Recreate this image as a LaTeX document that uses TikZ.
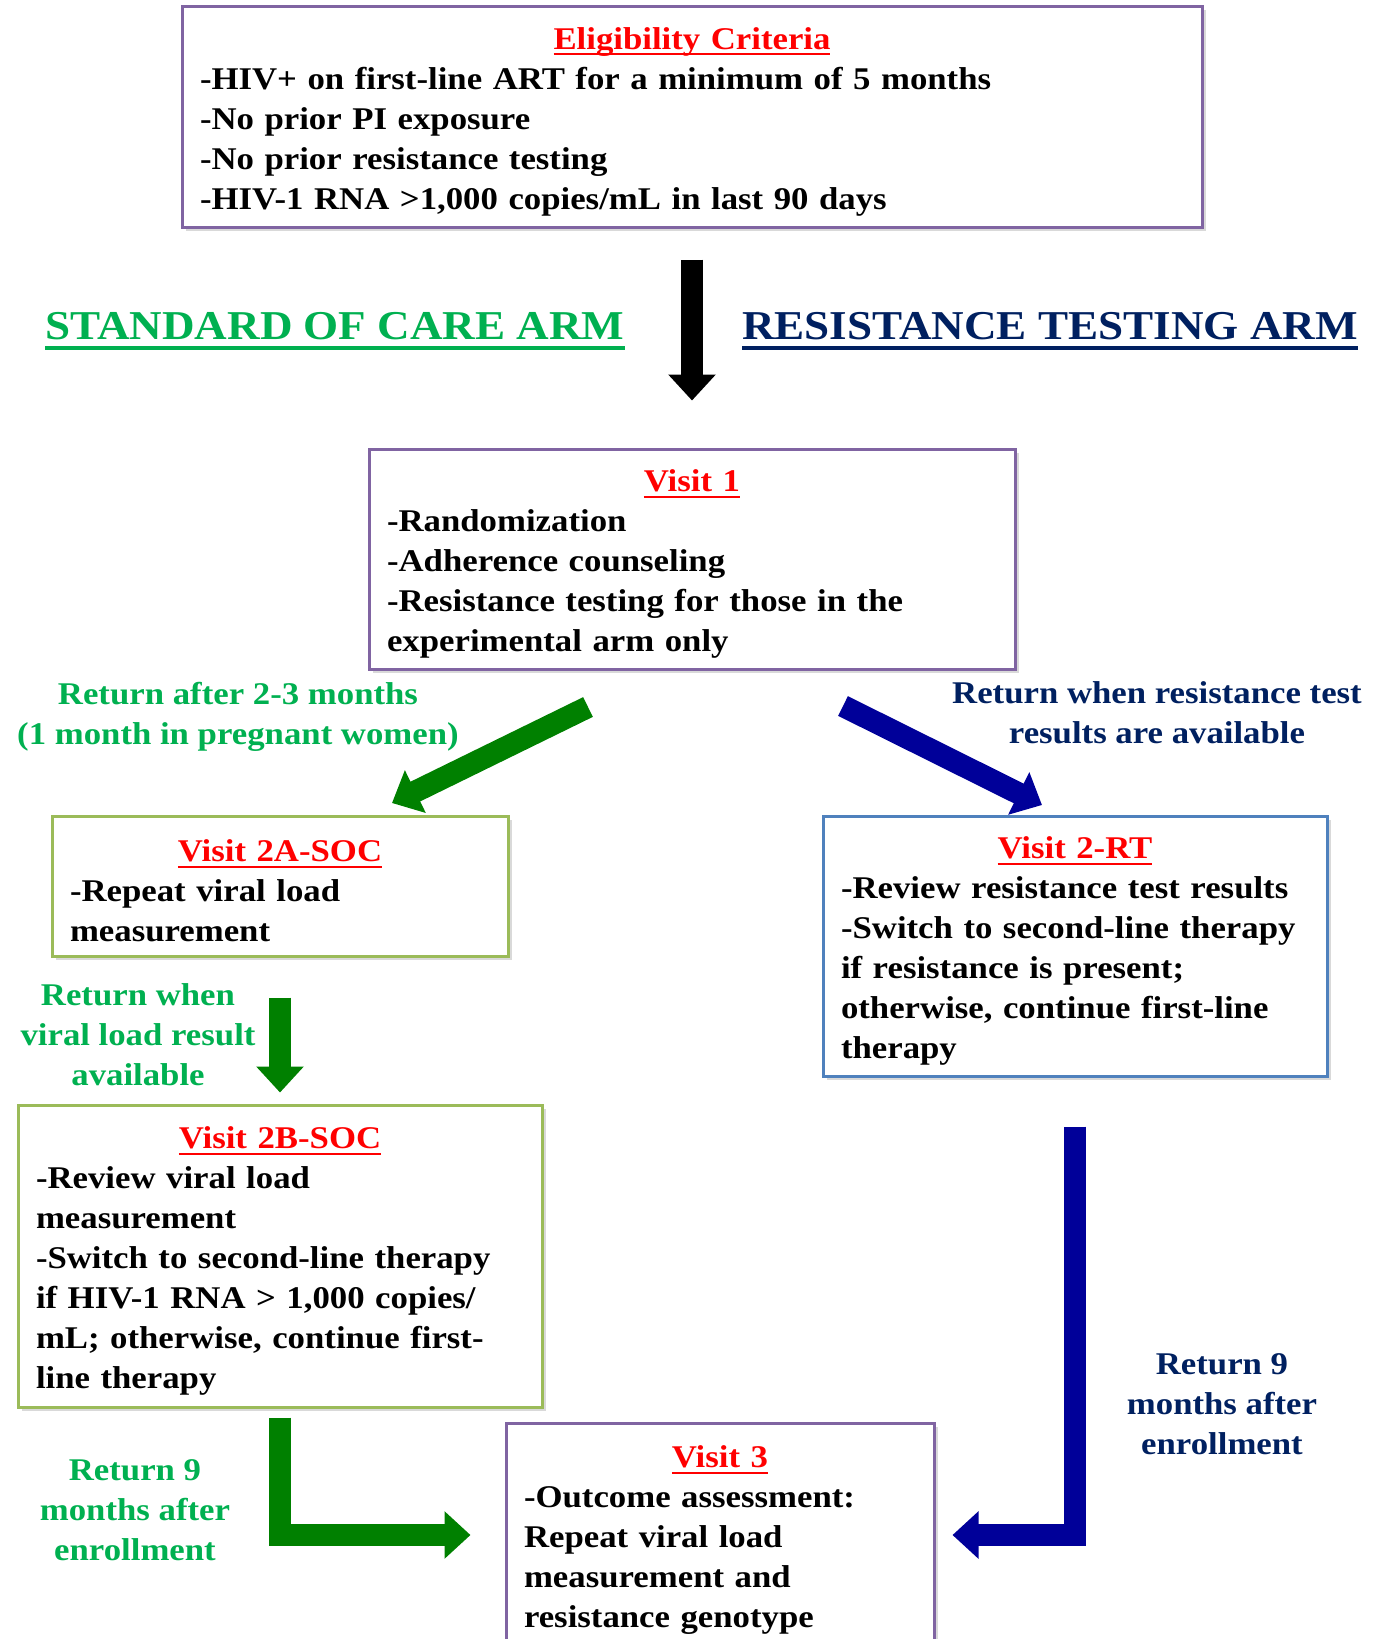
\documentclass[tikz,border=0pt]{standalone}
\usepackage{fontspec}
\setmainfont{Liberation Serif}[FakeStretch=1.1]
\usetikzlibrary{arrows.meta,positioning,shadows}
\definecolor{socgreen}{HTML}{00B050}
\definecolor{rtnavy}{HTML}{002060}
\definecolor{arrowgreen}{HTML}{008000}
\definecolor{arrowblue}{HTML}{000099}
\definecolor{boxpurple}{HTML}{8064A2}
\definecolor{boxgreen}{HTML}{9BBB59}
\definecolor{boxblue}{HTML}{4F81BD}
% underline: #1 thickness, #2 depth below baseline, #3 text
\newcommand{\ulbar}[3]{\leavevmode\setbox0=\hbox{#3}\rlap{\vrule width\wd0 height -#2 depth \dimexpr#2+#1\relax}\box0}
\newcommand{\vtitle}[1]{\makebox[\linewidth]{\rule{0pt}{16pt}\color{red}\ulbar{1pt}{2pt}{#1}}}
\newcommand{\armtitle}[1]{\ulbar{2pt}{3pt}{#1}}

\begin{document}
\begin{tikzpicture}[
    x=0.5pt, y=-0.5pt,
    font=\fontsize{15.8}{20}\selectfont\bfseries,
    box/.style={draw, line width=1.5pt, fill=white, inner sep=0pt, align=left,
      drop shadow={shadow xshift=2pt, shadow yshift=-2pt, opacity=0.3}},
    lbl/.style={align=center, inner sep=0pt},
    arm/.style={inner sep=0pt, font=\fontsize{20.5}{24}\selectfont\bfseries},
    bigarrow/.style={line width=11pt, line join=miter, -{Triangle[length=13pt,width=23pt]}}
]
\useasboundingbox (0,0) rectangle (1389,1639);

% Eligibility (top)
\node[box, draw=boxpurple, minimum width=510pt, minimum height=110.5pt, text width=492pt] (elig) at (692,116.5)
  {\vtitle{Eligibility Criteria}\\
   -HIV+ on first-line ART for a minimum of 5 months\\
   -No prior PI exposure\\
   -No prior resistance testing\\
   -HIV-1 RNA >1,000 copies/mL in last 90 days};

\node[arm, text=socgreen] (socarm) at (335,331) {\armtitle{STANDARD OF CARE ARM}};
\node[arm, text=rtnavy] (rtarm) at (1050,331) {\armtitle{RESISTANCE TESTING ARM}};

% Visit 1 (centre)
\node[box, draw=boxpurple, minimum width=323pt, minimum height=110pt, text width=305pt] (v1) at (692,559)
  {\vtitle{Visit 1}\\
   -Randomization\\
   -Adherence counseling\\
   -Resistance testing for those in the\\
   experimental arm only};

% Standard of care (left column)
\node[box, draw=boxgreen, minimum width=228pt, minimum height=70pt, text width=210pt] (soc2a) at (280,886)
  {\vtitle{Visit 2A-SOC}\\
   -Repeat viral load\\
   measurement};
\node[box, draw=boxgreen, minimum width=262pt, minimum height=151pt, text width=244pt] (soc2b) at (280,1256)
  {\vtitle{Visit 2B-SOC}\\
   -Review viral load\\
   measurement\\
   -Switch to second-line therapy\\
   if HIV-1 RNA > 1,000 copies/\\
   mL; otherwise, continue first-\\
   line therapy};

% Resistance testing (right column)
\node[box, draw=boxblue, minimum width=252pt, minimum height=130pt, text width=234pt] (rt2) at (1075,946)
  {\vtitle{Visit 2-RT}\\
   -Review resistance test results\\
   -Switch to second-line therapy\\
   if resistance is present;\\
   otherwise, continue first-line\\
   therapy};

% Visit 3 (bottom)
\node[box, draw=boxpurple, minimum width=214pt, minimum height=112pt, text width=196pt] (v3) at (720,1535)
  {\vtitle{Visit 3}\\
   -Outcome assessment:\\
   Repeat viral load\\
   measurement and\\
   resistance genotype};

% labels
\node[lbl, text=socgreen] (ret1) at (238,717) {Return after 2-3 months\\(1 month in pregnant women)};
\node[lbl, text=rtnavy] (ret2) at (1157,713) {Return when resistance test\\results are available};
\node[lbl, text=socgreen] (ret3) at (138,1035) {Return when\\viral load result\\available};
\node[lbl, text=socgreen] (ret4) at (135,1510) {Return 9\\months after\\enrollment};
\node[lbl, text=rtnavy] (ret5) at (1222,1404) {Return 9\\months after\\enrollment};

% arrows
\coordinate (g1s) at (588,707);
\coordinate (g1e) at (392,803);
\coordinate (b1s) at (843,706);
\coordinate (b1e) at (1042,805);

\draw[bigarrow, black, shorten <=15.5pt, shorten >=23.5pt] (elig.south) -- (v1.north);
\draw[bigarrow, arrowgreen] (g1s) -- (g1e);
\draw[bigarrow, arrowblue] (b1s) -- (b1e);
\draw[bigarrow, arrowgreen, shorten <=20pt, shorten >=5.5pt] (soc2a.south) -- (soc2b.north);
\draw[bigarrow, arrowgreen, shorten <=4.5pt, shorten >=17pt] (soc2b.south) |- (v3.west);
\draw[bigarrow, arrowblue, shorten <=24.5pt, shorten >=8.5pt] (rt2.south) |- (v3.east);

\end{tikzpicture}
\end{document}
